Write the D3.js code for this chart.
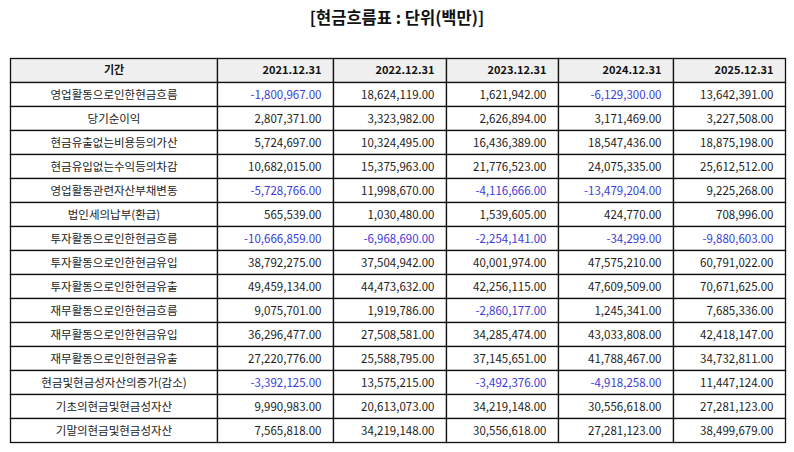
<!DOCTYPE html>
<html>
<head>
<meta charset="utf-8">
<script src="https://cdn.jsdelivr.net/npm/d3@7"></script>
<style>
  body { margin: 0; background: #fff; }
  svg text { font-family: "Noto Sans CJK KR", "Noto Sans", sans-serif; }
</style>
</head>
<body>
<div id="chart"></div>
<script>
const title = "[현금흐름표 : 단위(백만)]";
const headerLabel = "기간";
const periods = ["2021.12.31", "2022.12.31", "2023.12.31", "2024.12.31", "2025.12.31"];
const rowLabels = [
  "영업활동으로인한현금흐름",
  "당기순이익",
  "현금유출없는비용등의가산",
  "현금유입없는수익등의차감",
  "영업활동관련자산부채변동",
  "법인세의납부(환급)",
  "투자활동으로인한현금흐름",
  "투자활동으로인한현금유입",
  "투자활동으로인한현금유출",
  "재무활동으로인한현금흐름",
  "재무활동으로인한현금유입",
  "재무활동으로인한현금유출",
  "현금및현금성자산의증가(감소)",
  "기초의현금및현금성자산",
  "기말의현금및현금성자산",
];
const values2021 = [-1800967, 2807371, 5724697, 10682015, -5728766, 565539, -10666859, 38792275, 49459134, 9075701, 36296477, 27220776, -3392125, 9990983, 7565818];
const values2022 = [18624119, 3323982, 10324495, 15375963, 11998670, 1030480, -6968690, 37504942, 44473632, 1919786, 27508581, 25588795, 13575215, 20613073, 34219148];
const values2023 = [1621942, 2626894, 16436389, 21776523, -4116666, 1539605, -2254141, 40001974, 42256115, -2860177, 34285474, 37145651, -3492376, 34219148, 30556618];
const values2024 = [-6129300, 3171469, 18547436, 24075335, -13479204, 424770, -34299, 47575210, 47609509, 1245341, 43033808, 41788467, -4918258, 30556618, 27281123];
const values2025 = [13642391, 3227508, 18875198, 25612512, 9225268, 708996, -9880603, 60791022, 70671625, 7685336, 42418147, 34732811, 11447124, 27281123, 38499679];

const seriesValues = [values2021, values2022, values2023, values2024, values2025];

const W = 794, H = 452;
const tableLeft = 10.5, tableTop = 58.5, rowH = 24;
const colWidths = [207, 116, 113, 112, 115, 112];
const pad = 12;

const columns = [headerLabel].concat(periods);
const colEdges = d3.cumsum([0].concat(colWidths)).map((d) => tableLeft + d);
const xScale = d3.scaleOrdinal().domain(columns).range(colEdges.slice(0, -1));
const widthOf = d3.scaleOrdinal().domain(columns).range(colWidths);

const rowKeys = ["header"].concat(rowLabels);
const yScale = d3.scaleBand()
  .domain(rowKeys)
  .range([tableTop, tableTop + rowH * rowKeys.length]);

// plain hyphen for negatives, like the source table
const fmt = (v) => d3.format(",.2f")(v).replace("\u2212", "-");

const svg = d3.select("#chart").append("svg")
  .attr("width", W).attr("height", H);

svg.append("text")
  .attr("x", W / 2).attr("y", 24)
  .attr("text-anchor", "middle")
  .attr("font-size", 16.5).attr("font-weight", "bold")
  .attr("fill", "#111")
  .text(title);

// header row
const header = svg.append("g").attr("class", "header");
header.selectAll("rect")
  .data(columns)
  .enter().append("rect")
  .attr("x", (d) => xScale(d))
  .attr("y", yScale("header"))
  .attr("width", (d) => widthOf(d))
  .attr("height", yScale.bandwidth())
  .attr("fill", "#f0f0f0")
  .attr("stroke", "#111")
  .attr("stroke-width", 1.3);

header.selectAll("text")
  .data(columns)
  .enter().append("text")
  .attr("x", (d, i) => i === 0 ? xScale(d) + widthOf(d) / 2 : xScale(d) + widthOf(d) - pad)
  .attr("y", yScale("header") + yScale.bandwidth() / 2)
  .attr("dy", "0.36em")
  .attr("text-anchor", (d, i) => i === 0 ? "middle" : "end")
  .attr("font-size", 11).attr("font-weight", "bold")
  .attr("fill", "#111")
  .text((d) => d);

// body rows
const rows = svg.selectAll(".row")
  .data(rowLabels)
  .enter().append("g")
  .attr("class", "row");

rows.each(function (label, r) {
  const g = d3.select(this);
  const cells = [label].concat(seriesValues.map((s) => s[r]));
  g.selectAll("rect")
    .data(cells)
    .enter().append("rect")
    .attr("x", (d, i) => xScale(columns[i]))
    .attr("y", yScale(label))
    .attr("width", (d, i) => widthOf(columns[i]))
    .attr("height", yScale.bandwidth())
    .attr("fill", "#fff")
    .attr("stroke", "#111")
    .attr("stroke-width", 1.3);

  g.selectAll("text")
    .data(cells)
    .enter().append("text")
    .attr("x", (d, i) => i === 0
      ? xScale(columns[i]) + widthOf(columns[i]) / 2
      : xScale(columns[i]) + widthOf(columns[i]) - pad)
    .attr("y", yScale(label) + yScale.bandwidth() / 2)
    .attr("dy", "0.36em")
    .attr("text-anchor", (d, i) => i === 0 ? "middle" : "end")
    .attr("font-size", 11.5)
    .attr("fill", (d, i) => i > 0 && d < 0 ? "#3b3bd6" : "#222")
    .text((d, i) => i === 0 ? d : fmt(d));
});
</script>
</body>
</html>
